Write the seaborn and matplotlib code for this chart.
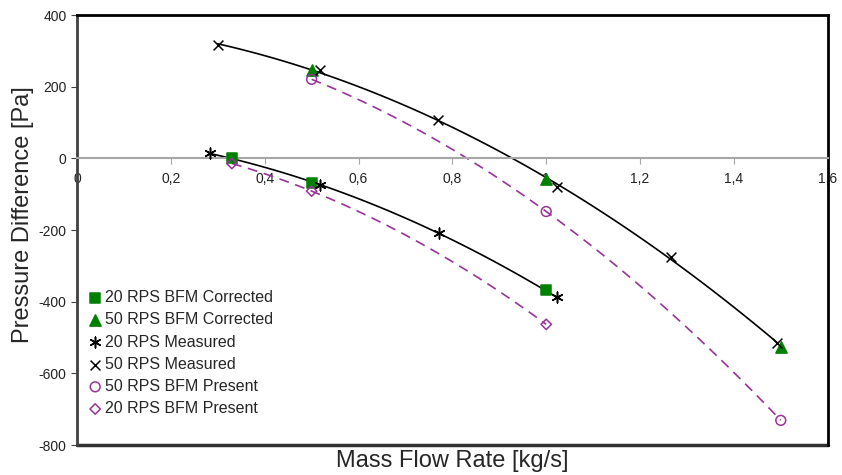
import matplotlib
matplotlib.use("Agg")
import matplotlib.pyplot as plt
import pandas as pd
import seaborn as sns

sns.set_style("white")
plt.rcParams["font.family"] = ["Liberation Sans", "DejaVu Sans"]
plt.rcParams["axes.unicode_minus"] = False

x_20_corr = [0.33, 0.50, 1.00]
y_20_corr = [0, -68, -368]
x_50_corr = [0.50, 1.00, 1.50]
y_50_corr = [247, -56, -526]
x_20_meas = [0.283, 0.518, 0.771, 1.022]
y_20_meas = [14, -73, -209, -387]
x_50_meas = [0.300, 0.518, 0.769, 1.022, 1.265, 1.493]
y_50_meas = [316, 247, 107, -79, -276, -515]
x_50_pres = [0.50, 1.00, 1.50]
y_50_pres = [221, -148, -731]
x_20_pres = [0.33, 0.50, 1.00]
y_20_pres = [-14, -91, -463]

GREEN = "#008000"
PURPLE = "#993399"

fig = plt.figure(figsize=(8.42, 4.75), dpi=100)
ax = fig.add_axes([0.0915, 0.063, 0.8915, 0.905])

# fitted curves
for xs, ys, col, ls in [
    (x_50_meas, y_50_meas, "black", "-"),
    (x_20_meas, y_20_meas, "black", "-"),
    (x_50_pres, y_50_pres, PURPLE, (0, (6, 4))),
    (x_20_pres, y_20_pres, PURPLE, (0, (6, 4))),
]:
    sns.regplot(x=xs, y=ys, order=2, ci=None, scatter=False, truncate=True, ax=ax,
                line_kws={"color": col, "lw": 1.2, "linestyle": ls})

series = [
    ("20 RPS BFM Corrected", x_20_corr, y_20_corr, "s", GREEN, GREEN, 55),
    ("50 RPS BFM Corrected", x_50_corr, y_50_corr, "^", GREEN, GREEN, 65),
    ("20 RPS Measured", x_20_meas, y_20_meas, (6, 2, 0), "black", "black", 60),
    ("50 RPS Measured", x_50_meas, y_50_meas, "x", "black", "black", 50),
    ("50 RPS BFM Present", x_50_pres, y_50_pres, "o", "none", PURPLE, 50),
    ("20 RPS BFM Present", x_20_pres, y_20_pres, "D", "none", PURPLE, 28),
]
for label, xs, ys, mk, fc, ec, s in series:
    df = pd.DataFrame({"x": xs, "y": ys})
    sns.scatterplot(data=df, x="x", y="y", marker=mk, s=s, color=fc if fc != "none" else ec,
                    facecolor=fc, edgecolor=ec, linewidth=1.1, ax=ax, label=label, zorder=3)

ax.set_xlim(0, 1.6)
ax.set_ylim(-800, 400)
ax.set_xticks([0, 0.2, 0.4, 0.6, 0.8, 1.0, 1.2, 1.4, 1.6])
ax.set_xticklabels(["0", "0,2", "0,4", "0,6", "0,8", "1", "1,2", "1,4", "1,6"])
ax.set_yticks([400, 200, 0, -200, -400, -600, -800])

ax.spines["bottom"].set_position(("data", 0))
ax.spines["bottom"].set_color("#a6a6a6")
ax.spines["bottom"].set_linewidth(1.5)
ax.spines["left"].set_color("#404040")
ax.spines["left"].set_linewidth(2)
for side in ["top", "right"]:
    ax.spines[side].set_color("black")
    ax.spines[side].set_linewidth(2)
ax.axhline(-800, color="#303030", lw=2.5, clip_on=False)

ax.tick_params(axis="x", direction="out", length=4, color="#a6a6a6", labelsize=10,
               labelcolor="#222222", pad=6)
ax.tick_params(axis="y", direction="out", length=4, color="#404040", labelsize=10,
               labelcolor="#222222", left=True)
ax.tick_params(axis="x", bottom=True)

ax.set_xlabel("Mass Flow Rate [kg/s]", fontsize=17)
ax.xaxis.set_label_coords(0.5, -0.012)
ax.set_ylabel("Pressure Difference [Pa]", fontsize=17)
ax.yaxis.set_label_coords(-0.058, 0.535)

leg = ax.legend(loc="upper left", bbox_to_anchor=(0.005, 0.375), frameon=False,
                fontsize=11.5, handletextpad=0.1, labelspacing=0.45, handlelength=1.0,
                borderaxespad=0)

fig.savefig("out.png", dpi=100)
